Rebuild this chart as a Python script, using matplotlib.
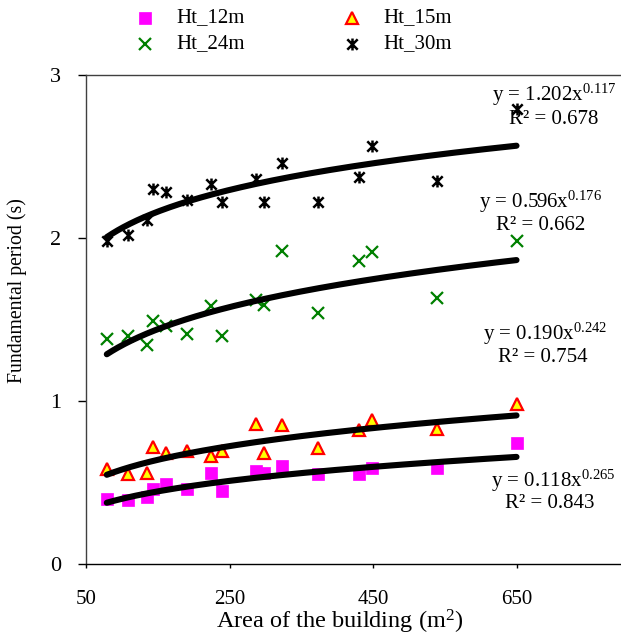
import numpy as np
import matplotlib
matplotlib.use("Agg")
import matplotlib.pyplot as plt
from matplotlib.path import Path
from matplotlib.lines import Line2D

plt.rcParams['font.family'] = ['Liberation Serif', 'DejaVu Serif']
plt.rcParams['mathtext.fontset'] = 'custom'
plt.rcParams['mathtext.rm'] = 'Liberation Serif'
plt.rcParams['mathtext.it'] = 'Liberation Serif:italic'

# Building plan areas (m²), shared by all height groups
area = [79, 108, 135, 143, 161, 191, 224, 239, 287, 298, 323, 373, 430, 449, 539, 650]

# Fundamental period (s) per building height
ht_12 = [0.40, 0.39, 0.41, 0.46, 0.49, 0.46, 0.56, 0.45, 0.57, 0.56, 0.60, 0.55, 0.55, 0.59, 0.59, 0.74]
ht_15 = [0.58, 0.55, 0.56, 0.72, 0.68, 0.69, 0.66, 0.69, 0.86, 0.68, 0.85, 0.71, 0.82, 0.88, 0.83, 0.98]
ht_24 = [1.38, 1.40, 1.34, 1.49, 1.46, 1.41, 1.58, 1.40, 1.62, 1.59, 1.92, 1.54, 1.86, 1.91, 1.63, 1.98]
ht_30 = [1.98, 2.02, 2.11, 2.30, 2.28, 2.23, 2.33, 2.22, 2.36, 2.22, 2.46, 2.22, 2.37, 2.56, 2.35, 2.79]

# Power-law fits y = a * x^b with their R² values
fit_a = {'12': 0.118, '15': 0.190, '24': 0.596, '30': 1.202}
fit_b = {'12': 0.265, '15': 0.242, '24': 0.176, '30': 0.117}
fit_r2 = {'12': 0.843, '15': 0.754, '24': 0.662, '30': 0.678}

x_ticks = [50, 250, 450, 650]
y_ticks = [0, 1, 2, 3]

# X with a vertical bar (asterisk style marker)
star_path = Path([(-1, -1), (1, 1), (-1, 1), (1, -1), (0, -1.15), (0, 1.15)],
                 [Path.MOVETO, Path.LINETO, Path.MOVETO, Path.LINETO, Path.MOVETO, Path.LINETO])

styles = {
    '12': dict(marker='s', ms=8.4, mfc='#ff00ff', mec='#ff00ff', mew=0.5),
    '15': dict(marker='^', ms=8.6, mfc='#ffff00', mec='#ff0000', mew=1.6),
    '24': dict(marker='x', ms=8.4, mec='#008000', mew=1.6),
    '30': dict(marker=star_path, ms=8.6, mec='#000000', mfc='none', mew=1.8),
}
series = {'12': ht_12, '15': ht_15, '24': ht_24, '30': ht_30}

W, H = 621, 640
fig = plt.figure(figsize=(W / 100, H / 100), dpi=100)
ax = fig.add_axes([86 / W, 1 - 564 / H, (660 - 86) / W, (564 - 74.7) / H])

for key in ['12', '15', '24', '30']:
    ax.plot(area, series[key], ls='none', zorder=3, **styles[key])

xs = np.linspace(min(area), max(area), 300)
for key in ['12', '15', '24', '30']:
    ax.plot(xs, fit_a[key] * xs ** fit_b[key], color='black', lw=4.4,
            solid_capstyle='round', zorder=4)

ax.set_xlim(50, 850)
ax.set_ylim(0, 3)
ax.set_xticks(x_ticks)
ax.set_yticks(y_ticks)
ax.tick_params(axis='x', direction='out', length=3, width=1, labelsize=15, pad=16)
ax.tick_params(axis='y', direction='out', length=6, width=1, labelsize=16, pad=12)
for s in ['left', 'bottom', 'top']:
    ax.spines[s].set_linewidth(1.0)
    ax.spines[s].set_color('#404040')
ax.spines['bottom'].set_color('black')
ax.spines['right'].set_visible(False)

ax.set_xlabel('Area of the building (m$^{\\mathregular{2}}$)', fontsize=17.5)
ax.xaxis.set_label_coords((340 - 86) / 574, (564 - 608) / 489.3)
ax.set_ylabel('Fundamental period (s)', fontsize=14.2)
ax.yaxis.set_label_coords((27 - 86) / 574, (564 - 291) / 489.3)

# Fit equations
eq_pos = {'30': (554, 95, 554, 119), '24': (541, 202, 541, 225),
          '15': (545, 334, 543, 358), '12': (553, 481, 550, 503)}
for key, (ex, ey, rx, ry) in eq_pos.items():
    fig.text(ex / W, 1 - ey / H,
             f"y = {fit_a[key]:.3f}x$^{{\\mathregular{{{fit_b[key]:.3f}}}}}$",
             ha='center', va='center', fontsize=15)
    fig.text(rx / W, 1 - ry / H, f"R² = {fit_r2[key]:.3f}",
             ha='center', va='center', fontsize=15)

# Legend
legend_items = [('12', 'Ht_12m', 145, 18), ('15', 'Ht_15m', 352, 18),
                ('24', 'Ht_24m', 145, 44), ('30', 'Ht_30m', 352, 44)]
for key, label, lx, ly in legend_items:
    fig.add_artist(Line2D([lx / W], [1 - ly / H], transform=fig.transFigure,
                          ls='none', **styles[key]))
    fig.text((lx + 31) / W, 1 - ly / H, label, ha='left', va='center', fontsize=15)

fig.savefig('out.png', dpi=100)
